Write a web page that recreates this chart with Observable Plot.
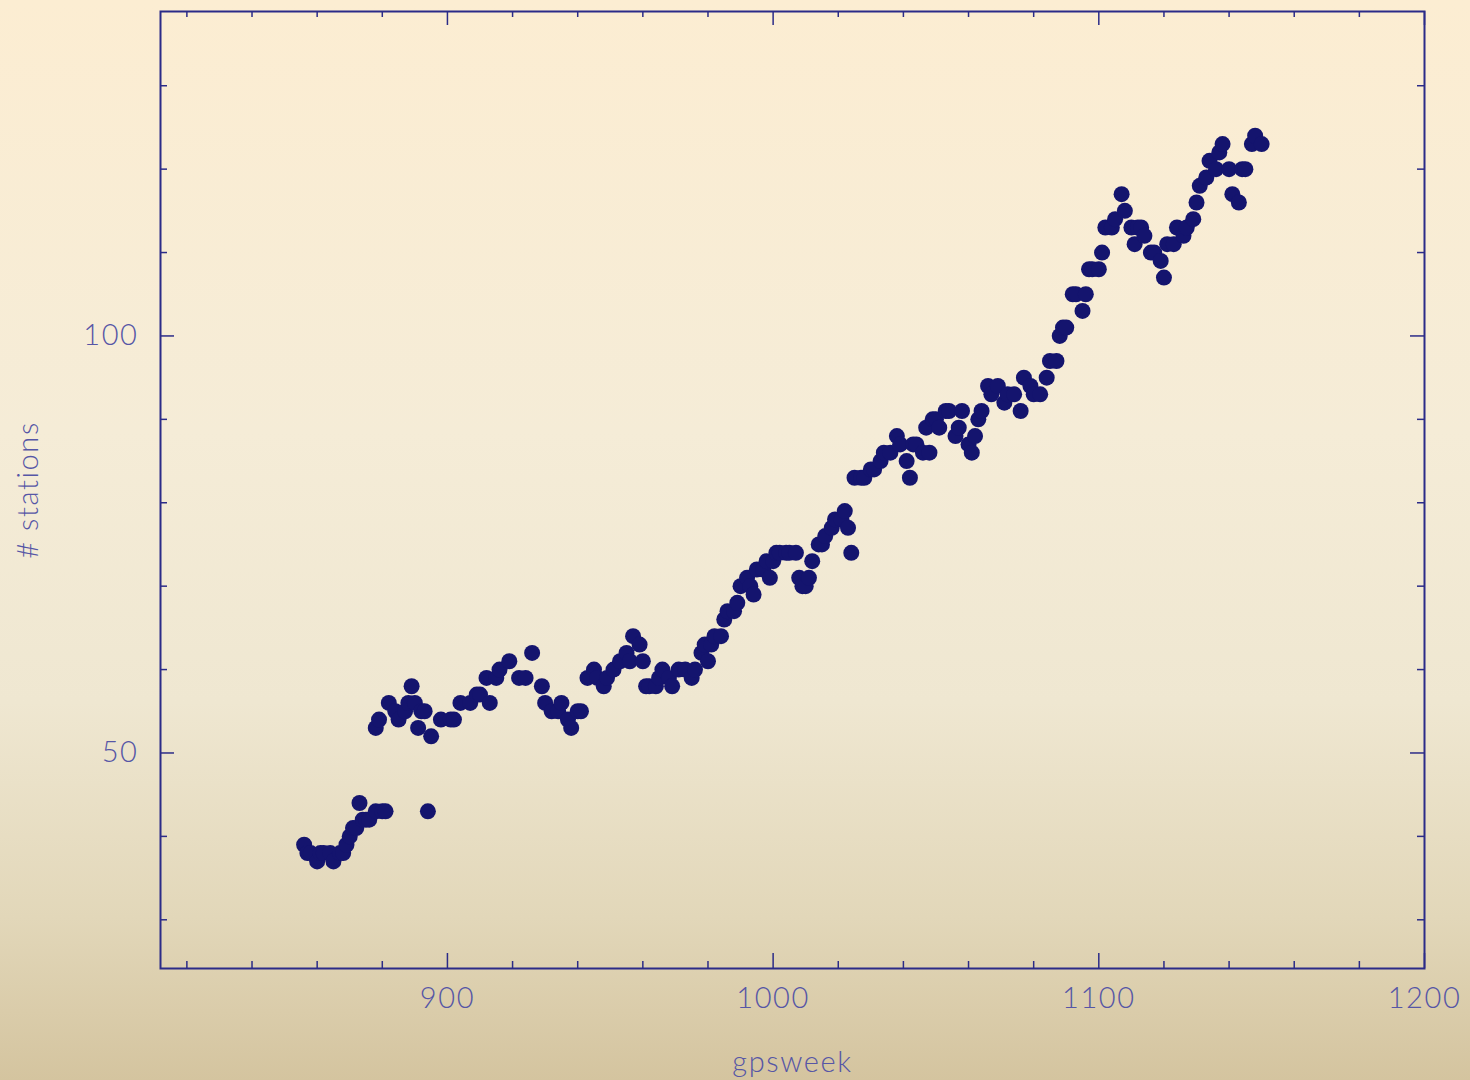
<!DOCTYPE html>
<html><head><meta charset="utf-8">
<script src="https://cdn.jsdelivr.net/npm/d3@7"></script>
<script src="https://cdn.jsdelivr.net/npm/@observablehq/plot@0.6"></script>
<style>
html,body{margin:0;padding:0;}
#chart{width:1470px;height:1080px;}
</style></head><body><div id="chart"></div>
<script>
// ---- data ----
const weeks = [
 856,857,858,860,861,862,864,865,867,868,869,870,871,872,873,874,875,876,878,880,881,
 878,879,882,884,885,887,888,889,890,891,892,893,895,898,901,
 894,
 902,904,907,909,910,912,913,915,916,919,922,924,926,929,930,932,934,935,937,938,940,941,
 943,945,946,948,949,951,953,955,956,957,959,960,961,962,964,965,966,968,969,971,973,975,
 976,978,979,980,981,982,984,985,986,988,989,990,992,993,994,995,997,998,999,1000,1001,
 1002,1004,1005,1007,1008,1009,1010,1011,1012,1014,1015,1016,1018,1019,1021,1022,1023,1024,
 1025,1027,1028,1030,1031,1033,1034,1036,1038,1039,1041,1042,1043,1044,1046,1047,1048,1049,
 1050,1051,1053,1054,1056,1057,1058,1060,1061,1062,1063,1064,1066,1067,1069,1071,1072,1074,
 1076,1077,1079,1080,1082,1084,1085,1087,1088,1089,1090,1092,1093,1095,1096,1097,1098,1100,
 1101,1102,1104,1105,1107,1108,1110,1111,1112,1113,1114,1116,1117,1119,1120,1121,1123,1124,
 1126,1127,1129,1130,1131,1133,1134,1136,1137,1138,1140,1141,1143,1144,1145,1147,1148,1150
];
const stations = [
 39,38,38,37,38,38,38,37,38,38,39,40,41,41,44,42,42,42,43,43,43,
 53,54,56,55,54,55,56,58,56,53,55,55,52,54,54,
 43,
 54,56,56,57,57,59,56,59,60,61,59,59,62,58,56,55,55,56,54,53,55,55,
 59,60,59,58,59,60,61,62,61,64,63,61,58,58,58,59,60,59,58,60,60,59,
 60,62,63,61,63,64,64,66,67,67,68,70,71,70,69,72,72,73,71,73,74,
 74,74,74,74,71,70,70,71,73,75,75,76,77,78,78,79,77,74,
 83,83,83,84,84,85,86,86,88,87,85,83,87,87,86,89,86,90,
 90,89,91,91,88,89,91,87,86,88,90,91,94,93,94,92,93,93,
 91,95,94,93,93,95,97,97,100,101,101,105,105,103,105,108,108,108,
 110,113,113,114,117,115,113,111,113,113,112,110,110,109,107,111,111,113,
 112,113,114,116,118,119,121,120,122,123,120,117,116,120,120,123,124,123
];
const xMajorTicks = [900, 1000, 1100, 1200];
const xMinorTicks = [820, 840, 860, 880, 920, 940, 960, 980, 1020, 1040, 1060, 1080, 1120, 1140, 1160, 1180];
const yMajorTicks = [50, 100];
const yMinorTicks = [30, 40, 60, 70, 80, 90, 110, 120, 130];
const xLabel = "gpsweek";
const yLabel = "# stations";

// ---- chart ----
const data = weeks.map((w, i) => ({week: w, stations: stations[i]}));
const W = 1470, H = 1080, mL = 160, mR = 46, mT = 11, mB = 112;
const innerW = W - mL - mR, innerH = H - mT - mB;
const ink = "#2b2b88", dotC = "#14146e", textC = "#5656a6";
const font = "Lato, 'Liberation Sans', sans-serif";

const chart = Plot.plot({
  width: W, height: H,
  marginLeft: mL, marginRight: mR, marginTop: mT, marginBottom: mB,
  x: {domain: [811.9, 1200]},
  y: {domain: [24.16, 138.9]},
  style: {
    background: "linear-gradient(to bottom, #fcedd2 0%, #f5ecd7 40%, #efe7d1 65%, #e2d7b9 85%, #d4c49f 100%)",
    fontFamily: font,
    letterSpacing: "1.6px"
  },
  marks: [
    Plot.dot(data, {x: "week", y: "stations", r: 8, fill: dotC, stroke: null}),
    Plot.frame({stroke: ink, strokeWidth: 2}),
    // bottom ticks (inward)
    Plot.tickX(xMinorTicks, {x: d => d, stroke: ink, strokeWidth: 1.5, insetTop: innerH - 7}),
    Plot.tickX(xMajorTicks, {x: d => d, stroke: ink, strokeWidth: 1.5, insetTop: innerH - 15}),
    // top ticks (inward)
    Plot.tickX(xMinorTicks, {x: d => d, stroke: ink, strokeWidth: 1.5, insetBottom: innerH - 6}),
    Plot.tickX(xMajorTicks, {x: d => d, stroke: ink, strokeWidth: 1.5, insetBottom: innerH - 14}),
    // left ticks (inward)
    Plot.tickY(yMinorTicks, {y: d => d, stroke: ink, strokeWidth: 1.5, insetRight: innerW - 7}),
    Plot.tickY(yMajorTicks, {y: d => d, stroke: ink, strokeWidth: 1.5, insetRight: innerW - 14}),
    // right ticks (inward)
    Plot.tickY(yMinorTicks, {y: d => d, stroke: ink, strokeWidth: 1.5, insetLeft: innerW - 7}),
    Plot.tickY(yMajorTicks, {y: d => d, stroke: ink, strokeWidth: 1.5, insetLeft: innerW - 14}),
    Plot.axisX({ticks: xMajorTicks, tickSize: 0, tickPadding: 19, tickFormat: d => String(d),
      fontSize: 29, fontWeight: 300, fill: textC, label: null, fontFamily: font}),
    Plot.axisY({ticks: yMajorTicks, tickSize: 0, tickPadding: 22, tickFormat: d => String(d),
      fontSize: 29, fontWeight: 300, fill: textC, label: null, fontFamily: font}),
    Plot.text([xLabel], {text: d => d, frameAnchor: "bottom", lineAnchor: "middle", dy: 94,
      fontSize: 29, fontWeight: 300, fill: textC, fontFamily: font}),
    Plot.text([yLabel], {text: d => d, frameAnchor: "left", textAnchor: "middle", rotate: -90, dx: -132,
      fontSize: 29, fontWeight: 300, fill: textC, fontFamily: font})
  ]
});
document.getElementById("chart").append(chart);
</script>
</body></html>
